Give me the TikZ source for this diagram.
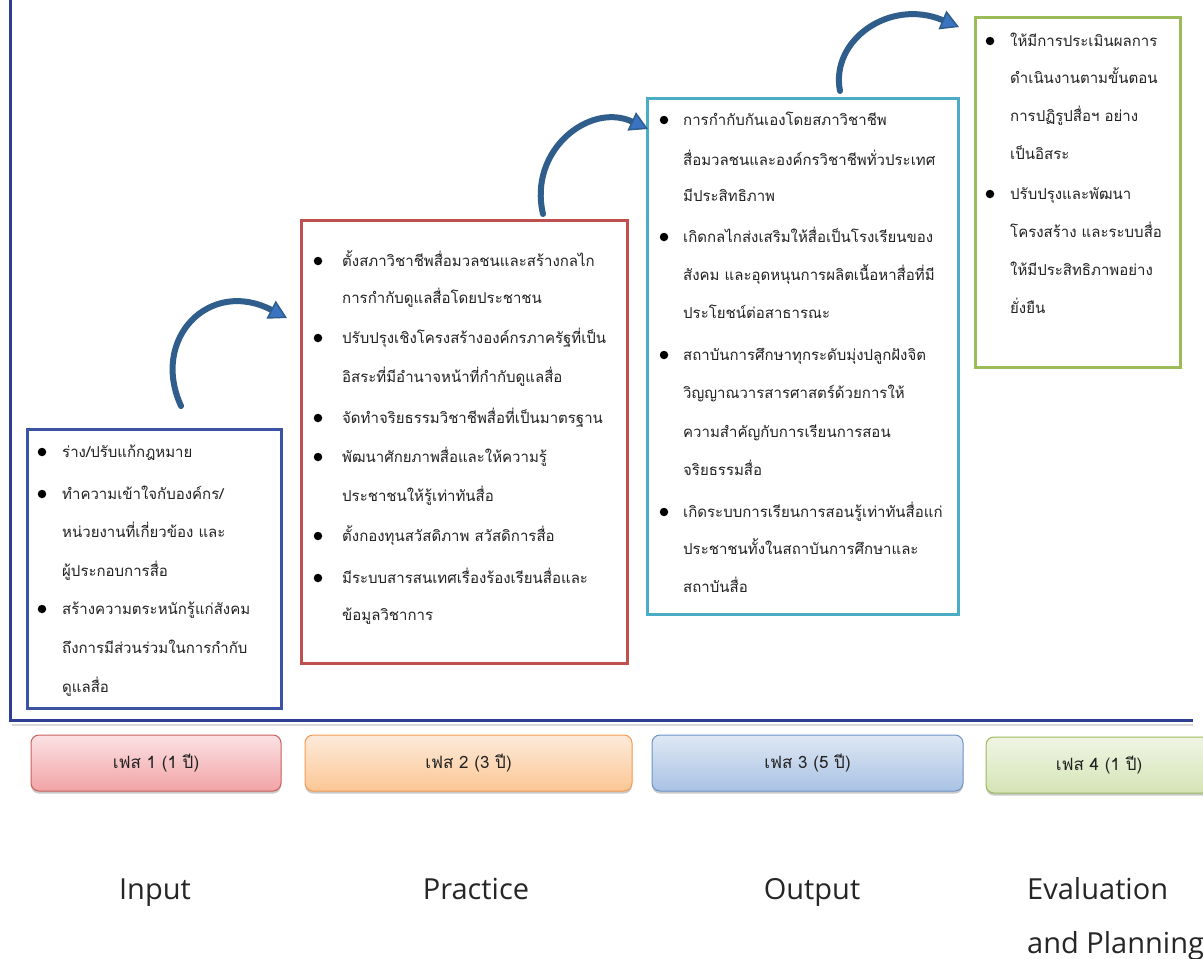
\documentclass[tikz,border=0pt]{standalone}
\usepackage{fontspec}
\newfontfamily\thaifont[Script=Thai]{Loma}
\newfontfamily\labelfont{Open Sans}
\usetikzlibrary{arrows.meta,shadows}
\definecolor{axisblue}{HTML}{2E3F92}
\definecolor{inblue}{HTML}{3A53A4}
\definecolor{prred}{HTML}{C0504D}
\definecolor{outteal}{HTML}{4BACC6}
\definecolor{evgreen}{HTML}{9BBB59}
\definecolor{arrowline}{HTML}{2F5D8C}
\definecolor{arrowfill}{HTML}{3A74C0}
\definecolor{txt}{HTML}{222222}
\definecolor{p1top}{HTML}{FBE2E4}
\definecolor{p1bot}{HTML}{F2A3A6}
\definecolor{p1dr}{HTML}{C9605D}
\definecolor{p2top}{HTML}{FDEADA}
\definecolor{p2bot}{HTML}{FBC795}
\definecolor{p2dr}{HTML}{F59A50}
\definecolor{p3top}{HTML}{DFE8F4}
\definecolor{p3bot}{HTML}{A9C2E4}
\definecolor{p3dr}{HTML}{6E93C8}
\definecolor{p4top}{HTML}{F0F5E4}
\definecolor{p4bot}{HTML}{D5E4B6}
\definecolor{p4dr}{HTML}{9BBB59}
\tikzset{
  stagebox/.style={draw, line width=3pt, fill=white, anchor=north west, inner sep=0pt},
  bul/.style={circle, fill=black, inner sep=0pt, minimum size=8.5pt},
  tline/.style={anchor=base west, inner sep=0pt, text=txt, font=\thaifont\fontsize{15}{18}\selectfont},
  phase/.style={rounded corners=8pt, line width=1pt, inner sep=0pt, minimum height=56pt,
     text=txt, font=\thaifont\fontsize{17}{20}\selectfont,
     drop shadow={shadow xshift=0pt, shadow yshift=-2.5pt, opacity=0.35, fill=black!60}},
  stagelabel/.style={inner sep=0pt, anchor=base, text=black!85, font=\labelfont\fontsize{29}{34}\selectfont},
  flow/.style={draw=arrowline, line width=6pt, line cap=round,
     -{Triangle[length=18pt, width=20pt, line width=1.5pt, fill=arrowfill]}},
  axis/.style={draw=axisblue, line width=3pt}
}
\begin{document}
\begin{tikzpicture}[x=1pt, y=-1pt]
\useasboundingbox (0,0) rectangle (1203,959);
\fill[white] (0,0) rectangle (1203,959);

% axes
\coordinate (ax0) at (10,0);
\coordinate (axc) at (10,720);
\coordinate (ax1) at (1193,720);
\draw[black!15, line width=2pt] (12,725) -- (1193,725);
\draw[axis] (ax0) -- (axc) -- (ax1);

% stage boxes
\node[stagebox, draw=inblue, minimum width=254pt, minimum height=279pt] (box1) at (25.5,427.5) {};
\node[stagebox, draw=prred, minimum width=326pt, minimum height=443pt] (box2) at (299.5,218.5) {};
\node[stagebox, draw=outteal, minimum width=311pt, minimum height=516pt] (box3) at (645.5,96.5) {};
\node[stagebox, draw=evgreen, minimum width=205pt, minimum height=350pt] (box4) at (973.5,15.5) {};

% box 1 text
\node[bul] (u1a) at (42,452) {};
\node[tline] (t1a) at (62,457) {ร่าง/ปรับแก้กฎหมาย};
\node[bul] (u1b) at (42,494) {};
\node[tline] (t1b) at (62,499) {ทำความเข้าใจกับองค์กร/};
\node[tline] (t1c) at (62,537) {หน่วยงานที่เกี่ยวข้อง และ};
\node[tline] (t1d) at (62,576) {ผู้ประกอบการสื่อ};
\node[bul] (u1c) at (42,609) {};
\node[tline] (t1e) at (62,614) {สร้างความตระหนักรู้แก่สังคม};
\node[tline] (t1f) at (62,653) {ถึงการมีส่วนร่วมในการกำกับ};
\node[tline] (t1g) at (62,692) {ดูแลสื่อ};

% box 2 text
\node[bul] (u2a) at (318,261) {};
\node[tline] (t2a) at (342,266) {ตั้งสภาวิชาชีพสื่อมวลชนและสร้างกลไก};
\node[tline] (t2b) at (342,303) {การกำกับดูแลสื่อโดยประชาชน};
\node[bul] (u2b) at (318,338) {};
\node[tline] (t2c) at (342,343) {ปรับปรุงเชิงโครงสร้างองค์กรภาครัฐที่เป็น};
\node[tline] (t2d) at (342,382) {อิสระที่มีอำนาจหน้าที่กำกับดูแลสื่อ};
\node[bul] (u2c) at (318,418) {};
\node[tline] (t2e) at (342,423) {จัดทำจริยธรรมวิชาชีพสื่อที่เป็นมาตรฐาน};
\node[bul] (u2d) at (318,457) {};
\node[tline] (t2f) at (342,462) {พัฒนาศักยภาพสื่อและให้ความรู้};
\node[tline] (t2g) at (342,501) {ประชาชนให้รู้เท่าทันสื่อ};
\node[bul] (u2e) at (318,536) {};
\node[tline] (t2h) at (342,541) {ตั้งกองทุนสวัสดิภาพ สวัสดิการสื่อ};
\node[bul] (u2f) at (318,578) {};
\node[tline] (t2i) at (342,583) {มีระบบสารสนเทศเรื่องร้องเรียนสื่อและ};
\node[tline] (t2j) at (342,620) {ข้อมูลวิชาการ};

% box 3 text
\node[bul] (u3a) at (664,120) {};
\node[tline] (t3a) at (683,125) {การกำกับกันเองโดยสภาวิชาชีพ};
\node[tline] (t3b) at (683,165) {สื่อมวลชนและองค์กรวิชาชีพทั่วประเทศ};
\node[tline] (t3c) at (683,201) {มีประสิทธิภาพ};
\node[bul] (u3b) at (664,237) {};
\node[tline] (t3d) at (683,242) {เกิดกลไกส่งเสริมให้สื่อเป็นโรงเรียนของ};
\node[tline] (t3e) at (683,280) {สังคม และอุดหนุนการผลิตเนื้อหาสื่อที่มี};
\node[tline] (t3f) at (683,318) {ประโยชน์ต่อสาธารณะ};
\node[bul] (u3c) at (664,355) {};
\node[tline] (t3g) at (683,360) {สถาบันการศึกษาทุกระดับมุ่งปลูกฝังจิต};
\node[tline] (t3h) at (683,398) {วิญญาณวารสารศาสตร์ด้วยการให้};
\node[tline] (t3i) at (683,437) {ความสำคัญกับการเรียนการสอน};
\node[tline] (t3j) at (683,475) {จริยธรรมสื่อ};
\node[bul] (u3d) at (664,512) {};
\node[tline] (t3k) at (683,517) {เกิดระบบการเรียนการสอนรู้เท่าทันสื่อแก่};
\node[tline] (t3l) at (683,554) {ประชาชนทั้งในสถาบันการศึกษาและ};
\node[tline] (t3m) at (683,592) {สถาบันสื่อ};

% box 4 text
\node[bul] (u4a) at (990,41) {};
\node[tline] (t4a) at (1010,46) {ให้มีการประเมินผลการ};
\node[tline] (t4b) at (1010,83) {ดำเนินงานตามขั้นตอน};
\node[tline] (t4c) at (1010,121) {การปฏิรูปสื่อฯ อย่าง};
\node[tline] (t4d) at (1010,159) {เป็นอิสระ};
\node[bul] (u4b) at (990,194) {};
\node[tline] (t4e) at (1010,199) {ปรับปรุงและพัฒนา};
\node[tline] (t4f) at (1010,237) {โครงสร้าง และระบบสื่อ};
\node[tline] (t4g) at (1010,275) {ให้มีประสิทธิภาพอย่าง};
\node[tline] (t4h) at (1010,313) {ยั่งยืน};

% curved arrows
\coordinate (a1s) at (181,406);
\coordinate (a1e) at (287,318);
\coordinate (a2s) at (543,214);
\coordinate (a2e) at (648,129);
\coordinate (a3s) at (840,91);
\coordinate (a3e) at (959,27);
\draw[flow] (a1s) .. controls (150,338) and (210,278) .. (a1e);
\draw[flow] (a2s) .. controls (528,150) and (590,102) .. (a2e);
\draw[flow] (a3s) .. controls (830,40) and (890,-2) .. (a3e);

% phase boxes
\node[phase, draw=p1dr, top color=p1top, bottom color=p1bot, minimum width=250pt] (ph1) at (156,763) {เฟส 1 (1 ปี)};
\node[phase, draw=p2dr, top color=p2top, bottom color=p2bot, minimum width=327pt] (ph2) at (468.5,763) {เฟส 2 (3 ปี)};
\node[phase, draw=p3dr, top color=p3top, bottom color=p3bot, minimum width=311pt] (ph3) at (807.5,763) {เฟส 3 (5 ปี)};
\node[phase, draw=p4dr, top color=p4top, bottom color=p4bot, minimum width=226pt] (ph4) at (1099,765) {เฟส 4 (1 ปี)};

% stage labels
\node[stagelabel] (l1) at (155,899) {Input};
\node[stagelabel] (l2) at (476,899) {Practice};
\node[stagelabel] (l3) at (812,899) {Output};
\node[stagelabel, anchor=base west] (l4) at (1027,899) {Evaluation};
\node[stagelabel, anchor=base west] (l5) at (1027,953) {and Planning};
\end{tikzpicture}
\end{document}
